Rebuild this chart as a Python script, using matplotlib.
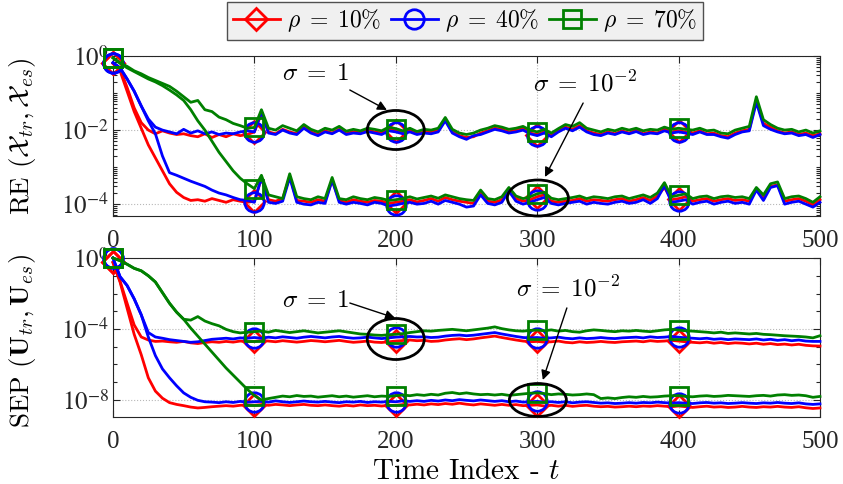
import numpy as np
import matplotlib
matplotlib.use('Agg')
import matplotlib.pyplot as plt
from matplotlib.patches import Ellipse
from matplotlib.lines import Line2D
from matplotlib.ticker import FixedLocator, LogLocator, NullFormatter

plt.rcParams['font.family'] = 'Liberation Serif'
plt.rcParams['mathtext.fontset'] = 'cm'

# time index, one reading every 5 steps
t_index = np.arange(0, 501, 5)

# ---- RE curves (log10 values) ----
re_red_s1 = [
    -0.20, -0.35, -0.85, -1.40, -1.80, -2.00, -2.10, -2.02, -2.08, -2.12,
    -2.10, -2.15, -2.18, -2.10, -2.20, -2.12, -2.18, -2.10, -2.15, -2.12,
    -2.05, -1.55, -2.05, -2.10, -1.98, -2.05, -2.10, -1.92, -2.05, -2.12,
    -2.02, -2.08, -1.98, -2.10, -2.04, -2.08, -2.00, -2.05, -2.08, -1.98,
    -2.02, -2.08, -2.00, -2.10, -2.05, -2.06, -2.00, -1.72, -2.05, -2.15,
    -2.20, -2.18, -2.08, -2.02, -1.95, -1.98, -2.05, -2.00, -1.95, -2.08,
    -2.12, -2.05, -2.15, -2.02, -1.92, -1.98, -1.88, -2.02, -2.08, -2.12,
    -2.05, -2.10, -2.02, -2.08, -2.00, -2.10, -2.05, -2.08, -1.98, -2.05,
    -2.02, -2.05, -2.08, -2.02, -2.10, -2.08, -2.15, -2.18, -2.08, -2.02,
    -1.98, -1.20, -1.82, -1.92, -2.02, -2.08, -2.05, -2.12, -2.08, -2.15,
    -2.10]
re_blue_s1 = [
    -0.18, -0.32, -0.62, -0.95, -1.35, -1.70, -1.92, -2.00, -2.05, -2.10,
    -1.98, -2.08, -2.02, -2.10, -2.05, -2.12, -2.08, -2.10, -2.05, -2.02,
    -2.05, -1.50, -2.08, -2.12, -2.00, -2.08, -2.12, -1.95, -2.08, -2.15,
    -2.05, -2.10, -2.00, -2.12, -2.08, -2.10, -2.04, -2.08, -2.12, -2.02,
    -2.05, -2.10, -2.05, -2.12, -2.08, -2.10, -2.05, -1.75, -2.08, -2.18,
    -2.25, -2.15, -2.12, -2.05, -1.98, -2.02, -2.08, -2.05, -2.00, -2.10,
    -2.15, -2.08, -2.18, -2.05, -1.95, -2.02, -1.92, -2.05, -2.12, -2.15,
    -2.08, -2.12, -2.05, -2.10, -2.04, -2.12, -2.08, -2.10, -2.02, -2.08,
    -2.05, -2.08, -2.12, -2.05, -2.12, -2.12, -2.18, -2.22, -2.12, -2.05,
    -2.02, -1.25, -1.88, -1.98, -2.05, -2.10, -2.08, -2.15, -2.12, -2.20,
    -2.12]
re_green_s1 = [
    -0.05, -0.18, -0.28, -0.40, -0.48, -0.58, -0.66, -0.74, -0.82, -0.95,
    -1.10, -1.25, -1.20, -1.45, -1.50, -1.65, -1.72, -1.82, -1.88, -1.95,
    -1.93, -1.45, -1.95, -2.00, -1.88, -1.95, -2.02, -1.85, -1.98, -2.05,
    -1.95, -2.00, -1.90, -2.03, -1.98, -2.02, -1.95, -1.98, -2.02, -1.92,
    -1.96, -2.02, -1.95, -2.04, -1.98, -2.00, -1.95, -1.66, -1.98, -2.08,
    -2.12, -2.08, -2.00, -1.95, -1.88, -1.92, -1.98, -1.95, -1.90, -2.00,
    -2.05, -1.98, -2.08, -1.96, -1.85, -1.90, -1.80, -1.95, -2.00, -2.05,
    -1.98, -2.02, -1.95, -2.00, -1.95, -2.02, -1.98, -2.00, -1.92, -1.98,
    -1.95, -1.98, -2.00, -1.95, -2.02, -2.00, -2.08, -2.10, -2.00, -1.95,
    -1.90, -1.10, -1.72, -1.85, -1.95, -2.00, -1.98, -2.05, -2.00, -2.08,
    -2.02]
re_red_s2 = [
    -0.20, -0.40, -0.95, -1.50, -1.95, -2.40, -2.75, -3.10, -3.45, -3.68,
    -3.82, -3.90, -3.88, -3.92, -3.85, -3.90, -3.95, -3.88, -3.92, -3.95,
    -3.92, -3.30, -3.88, -3.92, -3.85, -3.25, -3.90, -3.92, -3.95, -3.88,
    -3.92, -3.35, -3.90, -3.95, -3.88, -3.92, -3.95, -3.90, -3.92, -3.98,
    -3.95, -3.92, -3.88, -3.94, -3.90, -3.85, -3.92, -3.82, -3.88, -3.92,
    -3.95, -3.98, -3.70, -3.92, -3.95, -3.88, -3.62, -3.85, -3.92, -3.88,
    -3.80, -3.75, -3.92, -3.95, -3.92, -3.90, -3.85, -3.92, -3.88, -3.90,
    -3.92, -3.88, -3.85, -3.92, -3.88, -3.82, -3.90, -3.78, -3.55, -3.88,
    -3.85, -3.80, -3.92, -3.88, -3.85, -3.92, -3.88, -3.85, -3.90, -3.88,
    -3.92, -3.60, -3.82, -3.52, -3.48, -3.92, -3.88, -3.85, -3.92, -4.02,
    -3.88]
re_blue_s2 = [
    -0.18, -0.32, -0.62, -0.95, -1.35, -1.75, -2.10, -2.70, -3.15, -3.22,
    -3.30, -3.38, -3.45, -3.52, -3.62, -3.70, -3.75, -3.82, -3.88, -3.90,
    -3.95, -3.28, -3.95, -3.98, -3.92, -3.28, -3.95, -4.00, -4.02, -3.95,
    -3.98, -3.35, -3.95, -4.00, -3.95, -3.98, -4.02, -3.95, -3.98, -4.05,
    -4.02, -3.98, -3.95, -4.00, -3.98, -3.92, -4.00, -3.90, -3.95, -4.00,
    -4.08, -4.05, -3.75, -3.98, -4.02, -3.95, -3.65, -3.92, -4.00, -3.95,
    -3.88, -3.82, -3.98, -4.02, -3.98, -3.95, -3.92, -4.00, -3.95, -3.98,
    -4.00, -3.95, -3.92, -3.98, -3.95, -3.88, -3.98, -3.85, -3.50, -3.95,
    -3.92, -3.88, -4.00, -3.95, -3.92, -4.00, -3.95, -3.92, -3.98, -3.95,
    -4.00, -3.62, -3.90, -3.55, -3.50, -4.00, -3.95, -3.92, -4.00, -4.08,
    -3.95]
re_green_s2 = [
    -0.05, -0.20, -0.32, -0.42, -0.52, -0.62, -0.70, -0.80, -0.92, -1.05,
    -1.20, -1.45, -1.75, -2.00, -2.30, -2.60, -2.85, -3.10, -3.30, -3.45,
    -3.58, -3.22, -3.75, -3.80, -3.85, -3.18, -3.80, -3.85, -3.88, -3.80,
    -3.85, -3.28, -3.85, -3.88, -3.80, -3.85, -3.88, -3.82, -3.85, -3.90,
    -3.88, -3.85, -3.80, -3.86, -3.82, -3.78, -3.84, -3.75, -3.80, -3.85,
    -3.88, -3.90, -3.62, -3.85, -3.88, -3.80, -3.55, -3.78, -3.85, -3.80,
    -3.72, -3.68, -3.84, -3.88, -3.85, -3.82, -3.78, -3.85, -3.80, -3.82,
    -3.85, -3.80, -3.78, -3.85, -3.80, -3.75, -3.82, -3.70, -3.42, -3.80,
    -3.76, -3.72, -3.85, -3.80, -3.78, -3.85, -3.80, -3.78, -3.82, -3.80,
    -3.85, -3.55, -3.75, -3.45, -3.40, -3.85, -3.80, -3.78, -3.85, -3.95,
    -3.80]

# ---- SEP curves (log10 values) ----
sep_red_s1 = [
    -0.25, -1.30, -2.55, -3.77, -4.45, -4.62, -4.70, -4.68, -4.72, -4.75,
    -4.70, -4.78, -4.82, -4.76, -4.72, -4.75, -4.70, -4.74, -4.68, -4.72,
    -4.70, -4.65, -4.68, -4.72, -4.66, -4.70, -4.74, -4.70, -4.65, -4.68,
    -4.72, -4.68, -4.64, -4.70, -4.75, -4.72, -4.68, -4.74, -4.76, -4.72,
    -4.68, -4.65, -4.62, -4.66, -4.64, -4.70, -4.68, -4.62, -4.58, -4.55,
    -4.60, -4.56, -4.50, -4.45, -4.40, -4.48, -4.55, -4.62, -4.68, -4.72,
    -4.70, -4.74, -4.72, -4.68, -4.75, -4.78, -4.72, -4.76, -4.74, -4.70,
    -4.74, -4.76, -4.72, -4.70, -4.68, -4.72, -4.66, -4.70, -4.68, -4.64,
    -4.68, -4.72, -4.75, -4.78, -4.74, -4.80, -4.76, -4.82, -4.78, -4.80,
    -4.84, -4.80, -4.86, -4.82, -4.88, -4.85, -4.90, -4.86, -4.92, -4.95,
    -4.96]
sep_blue_s1 = [
    0.00, -1.05, -1.55, -2.30, -3.20, -4.20, -4.45, -4.52, -4.60, -4.65,
    -4.70, -4.75, -4.72, -4.65, -4.58, -4.55, -4.52, -4.56, -4.50, -4.52,
    -4.48, -4.52, -4.46, -4.50, -4.44, -4.48, -4.52, -4.46, -4.42, -4.46,
    -4.50, -4.45, -4.42, -4.48, -4.52, -4.50, -4.46, -4.50, -4.54, -4.50,
    -4.46, -4.44, -4.42, -4.45, -4.44, -4.48, -4.46, -4.40, -4.36, -4.34,
    -4.38, -4.35, -4.30, -4.25, -4.20, -4.28, -4.35, -4.42, -4.48, -4.50,
    -4.48, -4.52, -4.50, -4.46, -4.52, -4.55, -4.50, -4.54, -4.52, -4.48,
    -4.52, -4.54, -4.50, -4.48, -4.46, -4.50, -4.44, -4.48, -4.46, -4.42,
    -4.46, -4.50, -4.52, -4.55, -4.52, -4.58, -4.55, -4.60, -4.56, -4.58,
    -4.60, -4.56, -4.62, -4.58, -4.64, -4.60, -4.66, -4.62, -4.68, -4.70,
    -4.70]
sep_green_s1 = [
    0.00, -0.15, -0.35, -0.58, -0.72, -1.00, -1.35, -1.95, -2.55, -3.05,
    -3.45, -3.50, -3.30, -3.55, -3.70, -3.82, -4.02, -4.15, -4.22, -4.18,
    -4.15, -4.12, -4.18, -4.08, -4.14, -4.20, -4.15, -4.10, -4.16, -4.22,
    -4.18, -4.14, -4.10, -4.16, -4.22, -4.28, -4.30, -4.34, -4.36, -4.32,
    -4.30, -4.26, -4.20, -4.15, -4.10, -4.12, -4.08, -4.05, -4.02, -4.06,
    -4.10, -4.05, -4.00, -3.95, -3.88, -3.98, -4.05, -4.10, -4.12, -4.08,
    -4.06, -4.10, -4.05, -4.12, -4.08, -4.15, -4.18, -4.10, -4.05, -4.08,
    -4.12, -4.15, -4.10, -4.12, -4.08, -4.12, -4.15, -4.10, -4.05, -4.02,
    -4.06, -4.10, -4.12, -4.15, -4.18, -4.22, -4.18, -4.25, -4.22, -4.25,
    -4.28, -4.25, -4.30, -4.32, -4.35, -4.38, -4.40, -4.42, -4.45, -4.50,
    -4.38]
sep_red_s2 = [
    -0.25, -1.35, -2.83, -4.30, -5.45, -6.75, -7.50, -7.90, -8.15, -8.25,
    -8.32, -8.40, -8.45, -8.42, -8.38, -8.35, -8.32, -8.35, -8.30, -8.28,
    -8.30, -8.26, -8.30, -8.25, -8.28, -8.32, -8.28, -8.25, -8.30, -8.32,
    -8.28, -8.32, -8.35, -8.30, -8.34, -8.28, -8.32, -8.30, -8.34, -8.30,
    -8.30, -8.26, -8.28, -8.24, -8.28, -8.22, -8.26, -8.20, -8.24, -8.18,
    -8.24, -8.28, -8.22, -8.26, -8.30, -8.25, -8.30, -8.26, -8.32, -8.30,
    -8.28, -8.34, -8.30, -8.35, -8.30, -8.36, -8.32, -8.30, -8.35, -8.38,
    -8.36, -8.40, -8.38, -8.35, -8.38, -8.34, -8.36, -8.32, -8.35, -8.38,
    -8.34, -8.38, -8.42, -8.38, -8.35, -8.40, -8.38, -8.42, -8.40, -8.36,
    -8.40, -8.42, -8.38, -8.40, -8.36, -8.40, -8.42, -8.38, -8.44, -8.48,
    -8.45]
sep_blue_s2 = [
    0.00, -1.05, -1.55, -2.30, -3.20, -4.45, -5.50, -6.25, -6.75, -7.20,
    -7.60, -7.85, -8.02, -8.10, -8.12, -8.15, -8.10, -8.14, -8.08, -8.12,
    -8.10, -8.08, -8.12, -8.05, -8.10, -8.14, -8.10, -8.06, -8.10, -8.12,
    -8.08, -8.12, -8.15, -8.10, -8.12, -8.08, -8.14, -8.10, -8.12, -8.08,
    -8.10, -8.05, -8.08, -8.04, -8.08, -8.02, -8.06, -8.00, -8.04, -7.98,
    -8.02, -8.05, -8.00, -8.04, -8.08, -8.04, -8.10, -8.06, -8.12, -8.10,
    -8.08, -8.12, -8.10, -8.14, -8.10, -8.16, -8.12, -8.10, -8.14, -8.18,
    -8.16, -8.20, -8.18, -8.15, -8.18, -8.14, -8.16, -8.12, -8.15, -8.18,
    -8.15, -8.18, -8.20, -8.16, -8.14, -8.18, -8.16, -8.20, -8.18, -8.15,
    -8.18, -8.20, -8.16, -8.18, -8.14, -8.18, -8.20, -8.16, -8.22, -8.25,
    -8.22]
sep_green_s2 = [
    0.00, -0.15, -0.35, -0.58, -0.72, -1.00, -1.35, -1.95, -2.55, -3.05,
    -3.45, -3.95, -4.40, -4.85, -5.30, -5.75, -6.20, -6.60, -7.00, -7.40,
    -7.75, -8.00, -7.92, -7.85, -7.78, -7.82, -7.75, -7.80, -7.78, -7.84,
    -7.80, -7.76, -7.82, -7.78, -7.84, -7.80, -7.76, -7.82, -7.78, -7.80,
    -7.76, -7.72, -7.76, -7.70, -7.74, -7.68, -7.72, -7.62, -7.58, -7.65,
    -7.60, -7.66, -7.70, -7.68, -7.72, -7.68, -7.74, -7.70, -7.66, -7.62,
    -7.60, -7.64, -7.70, -7.66, -7.68, -7.72, -7.70, -7.66, -7.70, -7.92,
    -7.88, -7.92, -7.86, -7.82, -7.85, -7.80, -7.84, -7.82, -7.78, -7.76,
    -7.75, -7.80, -7.82, -7.78, -7.76, -7.80, -7.78, -7.74, -7.76, -7.78,
    -7.80, -7.76, -7.74, -7.78, -7.72, -7.70, -7.74, -7.72, -7.76, -7.85,
    -7.80]

rho_labels = [r'$\rho\;=\;10\%$', r'$\rho\;=\;40\%$', r'$\rho\;=\;70\%$']
x_ticks = [0, 100, 200, 300, 400, 500]

red = (1, 0, 0)
blue = (0, 0, 1)
green = (0, 0.5, 0)
styles = [(red, 'D', 11), (blue, 'o', 14), (green, 's', 13)]
ink = '#262626'

fig = plt.figure(figsize=(8.43, 4.84), dpi=100)
ax1 = fig.add_axes([0.134, 0.5537, 0.8387, 0.3306])
ax2 = fig.add_axes([0.134, 0.1384, 0.8387, 0.3285])

top_series = [(re_red_s1, re_red_s2), (re_blue_s1, re_blue_s2), (re_green_s1, re_green_s2)]
bot_series = [(sep_red_s1, sep_red_s2), (sep_blue_s1, sep_blue_s2), (sep_green_s1, sep_green_s2)]

for ax, series in ((ax1, top_series), (ax2, bot_series)):
    for (col, mk, ms), pair in zip(styles, series):
        for vals in pair:
            ax.semilogy(t_index, 10.0 ** np.array(vals), color=col, lw=2,
                        marker=mk, ms=ms, mfc='none', mew=2,
                        markevery=slice(0, 81, 20), clip_on=False, zorder=3)
    ax.set_xlim(0, 500)
    ax.set_xticks(x_ticks)
    ax.set_xticklabels([str(v) for v in x_ticks], fontsize=18)
    ax.tick_params(which='both', direction='in', top=True, right=True,
                   color=ink, labelcolor=ink, width=0.8)
    ax.tick_params(which='major', length=5)
    ax.tick_params(which='minor', length=3)
    ax.tick_params(axis='x', pad=10)
    ax.tick_params(axis='y', pad=3)
    ax.grid(True, which='major', linestyle=':', color='#b8b8b8', lw=0.8)
    for s in ax.spines.values():
        s.set_color(ink)
        s.set_linewidth(0.8)

ax1.set_ylim(10 ** -4.32, 1)
ax1.yaxis.set_major_locator(FixedLocator([1e-4, 1e-2, 1e0]))
ax1.yaxis.set_minor_locator(LogLocator(base=10, subs=np.arange(1, 10), numticks=60))
ax1.yaxis.set_minor_formatter(NullFormatter())
ax1.set_yticklabels([r'$10^{-4}$', r'$10^{-2}$', r'$10^{0}$'], fontsize=18,
                    math_fontfamily='stix')

ax2.set_ylim(10 ** -8.96, 1)
ax2.yaxis.set_major_locator(FixedLocator([1e-8, 1e-4, 1e0]))
ax2.yaxis.set_minor_locator(LogLocator(base=10, subs=(1.0,), numticks=30))
ax2.yaxis.set_minor_formatter(NullFormatter())
ax2.set_yticklabels([r'$10^{-8}$', r'$10^{-4}$', r'$10^{0}$'], fontsize=18,
                    math_fontfamily='stix')

ax1.set_ylabel(r'RE $(\mathcal{X}_{tr}, \mathcal{X}_{es})$', fontsize=19.5,
               fontfamily='cmr10')
ax2.set_ylabel(r'SEP $(\mathbf{U}_{tr}, \mathbf{U}_{es})$', fontsize=19.5,
               fontfamily='cmr10')
ax2.set_xlabel(r'Time Index - $t$', fontsize=21, fontfamily='cmr10')
ax1.yaxis.set_label_coords(-0.106, 0.5)
ax2.yaxis.set_label_coords(-0.106, 0.48)
ax2.xaxis.set_label_coords(0.5, -0.265)

# circled regions and arrows
notes = [
    (ax1, (0.400, 0.5375), 0.0806, 0.244, r'$\sigma\;=\;1$', (0.287, 0.8875), (0.335, 0.7875), (0.3875, 0.6625)),
    (ax1, (0.601, 0.1125), 0.0863, 0.225, r'$\sigma\;=\;10^{-2}$', (0.668, 0.83), (0.665, 0.706), (0.611, 0.244)),
    (ax2, (0.400, 0.4906), 0.0806, 0.258, r'$\sigma\;=\;1$', (0.287, 0.73), (0.335, 0.717), (0.399, 0.623)),
    (ax2, (0.601, 0.107), 0.0806, 0.2075, r'$\sigma\;=\;10^{-2}$', (0.6436, 0.805), (0.642, 0.686), (0.608, 0.233)),
]
for ax, c, w, h, txt, tpos, a0, a1 in notes:
    ax.add_patch(Ellipse(c, w, h, transform=ax.transAxes, fill=False,
                         ec='k', lw=2, clip_on=False, zorder=6))
    ax.text(tpos[0], tpos[1], txt, transform=ax.transAxes, ha='center',
            va='center', fontsize=18, zorder=7)
    ax.annotate('', xy=a1, xytext=a0, xycoords='axes fraction',
                arrowprops=dict(arrowstyle='-|>', color='k', lw=1,
                                mutation_scale=14, shrinkA=0, shrinkB=0),
                zorder=7)

handles = [Line2D([], [], color=col, lw=2, marker=mk, ms=ms, mfc='none', mew=2)
           for col, mk, ms in styles]
fig.legend(handles, rho_labels, loc='center', bbox_to_anchor=(0.5516, 0.9566),
           ncol=3, fontsize=17, frameon=True, fancybox=False, framealpha=1,
           facecolor='#f0f0f0', edgecolor='#505050', handlelength=2.0,
           handletextpad=0.3, columnspacing=0.4, borderpad=0.25,
           borderaxespad=0)

fig.savefig('out.png', dpi=100)
